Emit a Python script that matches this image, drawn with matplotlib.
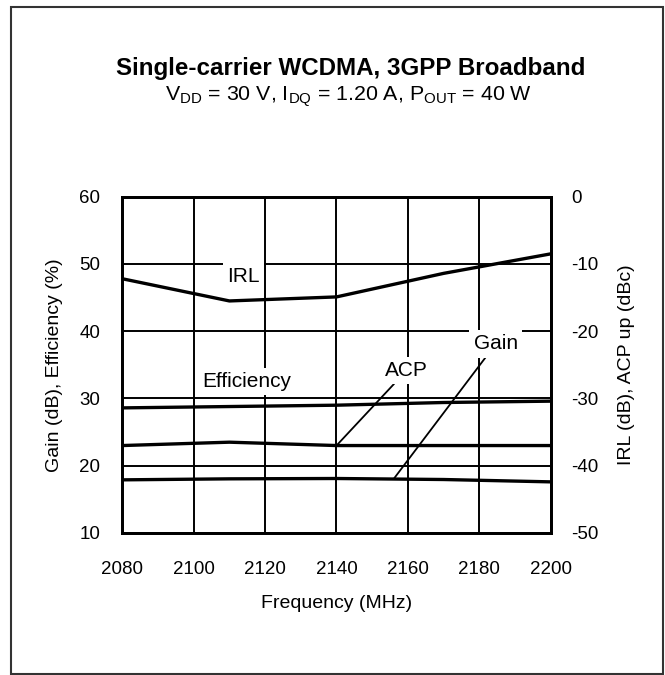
import numpy as np
import matplotlib
matplotlib.use("Agg")
import matplotlib.pyplot as plt
from matplotlib.patches import Rectangle

# DATA
freq = [2080, 2110, 2140, 2170, 2200]
gain = [17.9, 18.05, 18.1, 17.95, 17.6]          # dB, left axis
efficiency = [28.6, 28.8, 29.0, 29.4, 29.6]      # %, left axis
irl = [-12.2, -15.5, -14.9, -11.4, -8.5]         # dB, right axis
acp = [-37.0, -36.5, -37.0, -37.0, -37.0]        # dBc, right axis

x_ticks = [2080, 2100, 2120, 2140, 2160, 2180, 2200]
left_ticks = [10, 20, 30, 40, 50, 60]
right_ticks = [-50, -40, -30, -20, -10, 0]

plt.rcParams["font.family"] = ["Liberation Sans", "DejaVu Sans"]
plt.rcParams["mathtext.fontset"] = "custom"
plt.rcParams["mathtext.rm"] = "Liberation Sans"
plt.rcParams["axes.unicode_minus"] = False

fig = plt.figure(figsize=(6.65, 6.75), dpi=100)
ax = fig.add_axes([0.1839, 0.2104, 0.6442, 0.4982])
ax2 = ax.twinx()

# curves
ax.plot(freq, gain, color="black", lw=2.4, zorder=2)
ax.plot(freq, efficiency, color="black", lw=2.4, zorder=2)
ax2.plot(freq, irl, color="black", lw=2.4)
ax2.plot(freq, acp, color="black", lw=2.4)

ax.set_xlim(2080, 2200)
ax.set_ylim(10, 60)
ax2.set_ylim(-50, 0)
ax.set_xticks(x_ticks)
ax.set_yticks(left_ticks)
ax2.set_yticks(right_ticks)
ax.grid(True, color="black", lw=1.4)

ax.tick_params(axis="x", length=0, pad=20, labelsize=13.5)
ax.tick_params(axis="y", length=0, pad=16, labelsize=13.5)
ax2.tick_params(axis="y", length=0, pad=15, labelsize=13.5)
for a in (ax, ax2):
    for s in a.spines.values():
        s.set_linewidth(2.0)

ax.set_xlabel("Frequency (MHz)", fontsize=14)
ax.xaxis.set_label_coords(0.5, -0.184)
ax.set_ylabel("Gain (dB), Efficiency (%)", fontsize=14)
ax.yaxis.set_label_coords(-0.138, 0.5)
ax2.set_ylabel("IRL (dB), ACP up (dBc)", fontsize=14)
ax2.yaxis.set_label_coords(1.157, 0.5)

# curve labels
box = dict(facecolor="white", edgecolor="none", pad=3)
ax.text(2113.9, 48.1, "IRL", fontsize=15, ha="center", va="center", bbox=box, zorder=3)
ax.text(2114.8, 32.5, "Efficiency", fontsize=15, ha="center", va="center", bbox=box, zorder=3)
ax2.annotate("ACP", xy=(2140, acp[2]), xytext=(2159.7, -25.8), fontsize=15,
             ha="center", va="center", bbox=box,
             arrowprops=dict(arrowstyle="-", color="black", lw=1.3, shrinkA=0, shrinkB=0))
ax.annotate("Gain", xy=(2156, np.interp(2156, freq, gain)), xytext=(2184.6, 38.1), fontsize=15,
            ha="center", va="center", bbox=box, zorder=3,
            arrowprops=dict(arrowstyle="-", color="black", lw=1.3, shrinkA=0, shrinkB=0))

# title block
fig.text(0.527, 0.8978, "Single-carrier WCDMA, 3GPP Broadband", fontsize=17.4,
         fontweight="bold", ha="center", va="center")
fig.text(0.524, 0.8567,
         r"V$_{\mathregular{DD}}$ = 30 V, I$_{\mathregular{DQ}}$ = 1.20 A, P$_{\mathregular{OUT}}$ = 40 W",
         fontsize=15.4, ha="center", va="center")

# outer frame
fig.patches.append(Rectangle((0.016, 0.0015), 0.981, 0.9885, transform=fig.transFigure,
                             fill=False, edgecolor="#333333", lw=1.5))

fig.savefig("out.png", dpi=100)
